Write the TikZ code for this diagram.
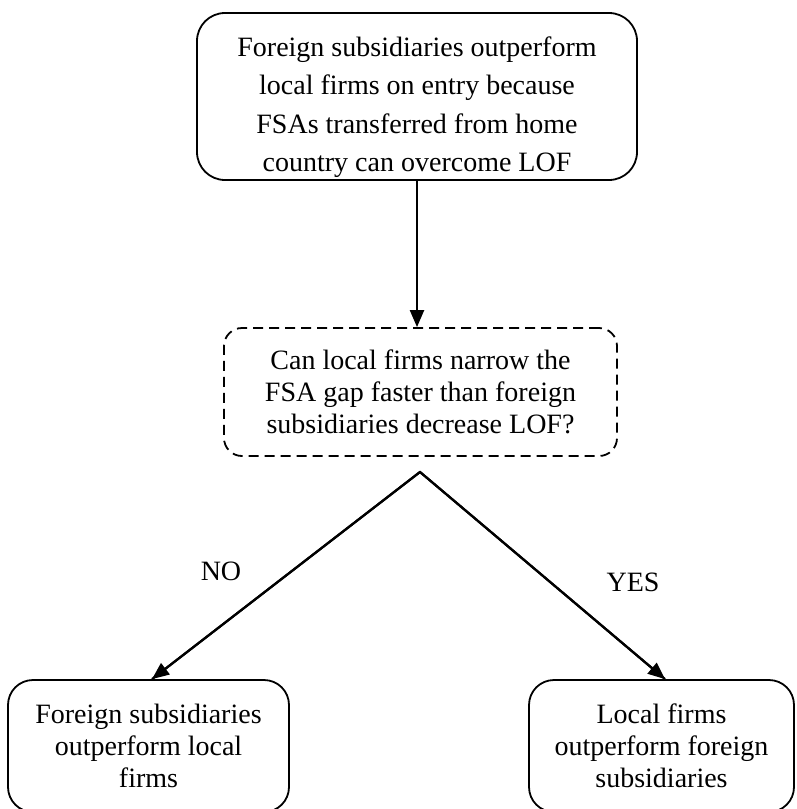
\documentclass[tikz,border=0pt]{standalone}
\usepackage{fontspec}
\setmainfont{Liberation Serif}
\usetikzlibrary{arrows.meta,calc}
\begin{document}
\begin{tikzpicture}[x=1pt,y=-1pt,
  txt/.style={font=\fontsize{28}{32}\selectfont},
  box/.style={draw,line width=1.8pt,rounded corners=#1,align=center,txt,inner sep=0pt},
  qbox/.style={box=18pt,dash pattern=on 10pt off 6pt},
  arr/.style={line width=2.2pt,-{Triangle[length=17pt,width=14pt]}},
  lbl/.style={txt,inner sep=0pt}]
\useasboundingbox (0,0) rectangle (796,809);
\node[box=28pt,minimum width=440pt,minimum height=167pt,font=\fontsize{28}{38.5}\selectfont] (top) at (417,96.5)
  {\rule{0pt}{41pt}Foreign subsidiaries outperform\\local firms on entry because\\FSAs transferred from home\\country can overcome LOF};
\node[qbox,minimum width=393pt,minimum height=128pt] (q) at (420.5,392)
  {Can local firms narrow the\\FSA gap faster than foreign\\subsidiaries decrease LOF?};
\node[box=25pt,minimum width=281pt,minimum height=132pt] (lb) at (148.5,746)
  {Foreign subsidiaries\\outperform local\\firms};
\node[box=25pt,minimum width=265pt,minimum height=132pt] (rb) at (661.5,746)
  {Local firms\\outperform foreign\\subsidiaries};
\coordinate (apex) at (420,472);
\draw[arr] (top.south) -- (top.south |- q.north);
\draw[line width=2.2pt,line join=miter] ($(lb.north)+(3.5,0)$) -- (apex) -- ($(rb.north)+(3.5,0)$);
\draw[arr] (apex) -- ($(lb.north)+(3.5,0)$);
\draw[arr] (apex) -- ($(rb.north)+(3.5,0)$);
\node[lbl] (no) at (221,571) {NO};
\node[lbl] (yes) at (633,582) {YES};
\end{tikzpicture}
\end{document}
